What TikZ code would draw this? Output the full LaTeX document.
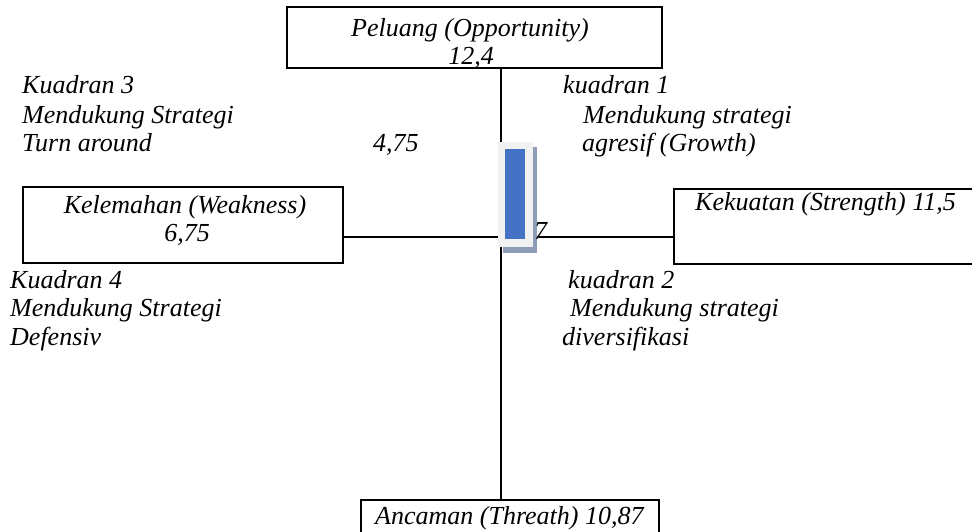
\documentclass[tikz,border=0pt]{standalone}
\usepackage{fontspec}
\setmainfont{Liberation Serif}
\usepackage{tikz}
\usetikzlibrary{calc}
\definecolor{birubatang}{HTML}{4472C4}
\definecolor{bayangbatang}{HTML}{8E9CBA}
\definecolor{latarbatang}{HTML}{F1F1F1}

\tikzset{
	kotak/.style={draw, line width=1.6pt, inner sep=0pt},
	garis/.style={line width=1.6pt},
	teks/.style={anchor=base west, inner sep=0pt, font=\fontsize{26}{29}\selectfont\itshape},
	tekstengah/.style={teks, anchor=base},
}

\begin{document}
\begin{tikzpicture}[x=1pt, y=-1pt]
			\clip (0,0) rectangle (972,531);
			% kotak faktor
			\node[kotak, minimum width=375pt, minimum height=61pt] (peluang) at (474.5,37.5) {};
			\node[kotak, minimum width=320pt, minimum height=76pt] (kelemahan) at (183,225) {};
			\node[kotak, minimum width=330pt, minimum height=75pt, anchor=north west] (kekuatan) at (673,188) {};
			\node[kotak, minimum width=298pt, minimum height=60pt, anchor=north west] (ancaman) at (360,499) {};
			\node[tekstengah] (peluangA) at (470,36) {Peluang (Opportunity)};
			\node[tekstengah] (peluangB) at (471,64) {12,4};
			\node[tekstengah] (kelemahanA) at (185,213) {Kelemahan (Weakness)};
			\node[tekstengah] (kelemahanB) at (187,241) {6,75};
			\node[teks] (kekuatanA) at (695,210) {Kekuatan (Strength) 11,5};
			\node[teks] (ancamanA) at (375,524) {Ancaman (Threath) 10,87};
			% sumbu
			\coordinate (pusat) at (501,237);
			\draw[garis] (peluang.south -| pusat) -- (ancaman.north -| pusat);
			\draw[garis] (kelemahan.east |- pusat) -- (kekuatan.west |- pusat);
			% batang
			\fill[bayangbatang] (503,147) rectangle (537,253);
			\fill[latarbatang] (498,142) rectangle (533,247);
			\fill[birubatang] (505,149) rectangle (525,239);
			\node[teks] (nilaitujuh) at (534,239) {7};
			\node[teks] (nilaiempat) at (373,151) {4,75};
			% kuadran
			\node[teks] (kuadranTigaA) at (22,93) {Kuadran 3};
			\node[teks] (kuadranTigaB) at (22,123) {Mendukung Strategi};
			\node[teks] (kuadranTigaC) at (22,151) {Turn around};
			\node[teks] (kuadranSatuA) at (563,93) {kuadran 1};
			\node[teks] (kuadranSatuB) at (583,123) {Mendukung strategi};
			\node[teks] (kuadranSatuC) at (582,151) {agresif (Growth)};
			\node[teks] (kuadranEmpatA) at (10,288) {Kuadran 4};
			\node[teks] (kuadranEmpatB) at (10,316) {Mendukung Strategi};
			\node[teks] (kuadranEmpatC) at (10,345) {Defensiv};
			\node[teks] (kuadranDuaA) at (568,288) {kuadran 2};
			\node[teks] (kuadranDuaB) at (570,316) {Mendukung strategi};
			\node[teks] (kuadranDuaC) at (562,345) {diversifikasi};
		\end{tikzpicture}
\end{document}
